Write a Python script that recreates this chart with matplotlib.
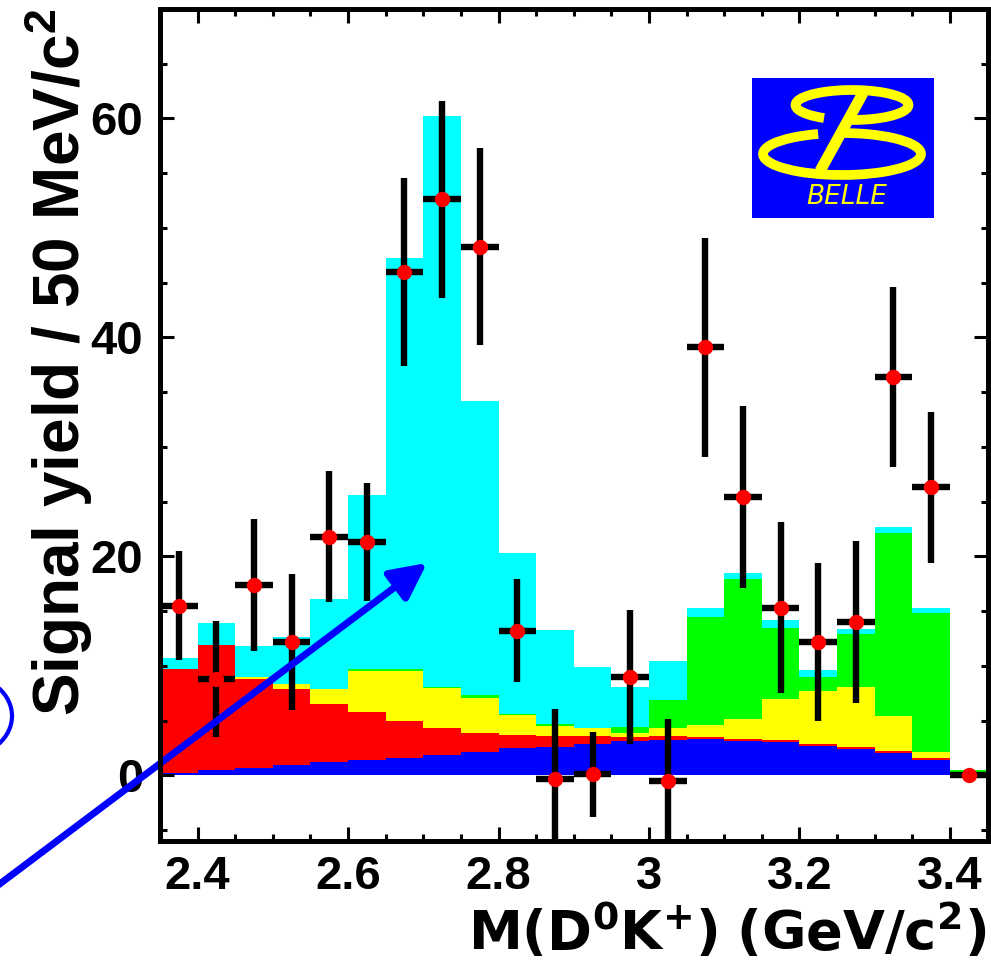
import matplotlib
matplotlib.use("Agg")
import matplotlib.pyplot as plt
import numpy as np
from matplotlib.patches import Arc, Ellipse, Rectangle
from matplotlib.ticker import FixedLocator, MultipleLocator

plt.rcParams["font.family"] = ["Liberation Sans", "DejaVu Sans"]
plt.rcParams["font.weight"] = "bold"
plt.rcParams["mathtext.fontset"] = "custom"
plt.rcParams["mathtext.rm"] = "Liberation Sans:bold"
plt.rcParams["mathtext.bf"] = "Liberation Sans:bold"
plt.rcParams["mathtext.it"] = "Liberation Sans:bold:italic"
plt.rcParams["mathtext.sf"] = "DejaVu Sans:bold"

# 50 MeV/c^2 bins, 2.35 - 3.45 GeV/c^2
edges = np.round(np.linspace(2.35, 3.45, 23), 3)
centers = 0.5 * (edges[:-1] + edges[1:])

# fitted components (events per bin), stacked bottom to top
comp_blue = [0.2, 0.5, 0.7, 0.9, 1.2, 1.4, 1.6, 1.9, 2.1, 2.5, 2.6,
             2.9, 3.1, 3.2, 3.3, 3.1, 3.0, 2.7, 2.4, 2.0, 1.4, 0.05]
comp_red = [9.5, 11.4, 8.1, 7.0, 5.3, 4.4, 3.4, 2.4, 1.8, 1.2, 1.0,
            0.7, 0.4, 0.4, 0.2, 0.2, 0.2, 0.2, 0.2, 0.2, 0.2, 0.05]
comp_yellow = [0.0, 0.0, 0.2, 0.4, 1.4, 3.7, 4.5, 3.7, 3.2, 1.8, 0.9,
               0.7, 0.4, 0.7, 1.1, 1.8, 3.8, 4.8, 5.5, 3.2, 0.5, 0.1]
comp_green = [0.0, 0.0, 0.0, 0.0, 0.0, 0.2, 0.2, 0.1, 0.2, 0.1, 0.2,
              0.0, 0.5, 2.6, 9.9, 12.8, 6.5, 1.3, 4.8, 16.7, 12.7, 0.3]
comp_cyan = [1.0, 2.0, 2.8, 4.3, 8.2, 15.9, 37.6, 52.1, 26.9, 14.7, 8.6,
             5.6, 3.7, 3.5, 0.8, 0.6, 0.7, 0.6, 0.5, 0.6, 0.5, 0.0]

# measured signal yield with errors
yield_val = [15.5, 8.8, 17.4, 12.2, 21.8, 21.3, 46.0, 52.6, 48.3, 13.2, -0.3,
             0.1, 9.0, -0.5, 39.1, 25.4, 15.3, 12.2, 14.0, 36.4, 26.3, 0.0]
yield_err = [5.0, 5.3, 6.0, 6.2, 6.0, 5.4, 8.6, 9.0, 9.0, 4.7, 6.4,
             3.9, 6.1, 5.6, 10.0, 8.3, 7.8, 7.2, 7.4, 8.2, 6.9, 0.0]

xticks = [2.4, 2.6, 2.8, 3.0, 3.2, 3.4]
xticklabels = ["2.4", "2.6", "2.8", "3", "3.2", "3.4"]
yticks = [0, 20, 40, 60]

W, H = 991, 963
fig = plt.figure(figsize=(W / 100, H / 100), dpi=100)
ax = fig.add_axes([160 / W, 1 - 841 / H, 827.5 / W, 832 / H])

components = [comp_blue, comp_red, comp_yellow, comp_green, comp_cyan]
colors = ["#0000ff", "#ff0000", "#ffff00", "#00ff00", "#00ffff"]
bottom = np.zeros(len(centers))
for vals, col in zip(components, colors):
    top = bottom + np.asarray(vals)
    ax.stairs(top, edges, baseline=bottom, fill=True, color=col,
              linewidth=0, zorder=1)
    bottom = top

ax.errorbar(centers, yield_val, yerr=yield_err, xerr=0.025, fmt="o",
            color="red", markersize=11, markeredgewidth=0,
            ecolor="black", elinewidth=4.6, capsize=0, zorder=3)

ax.set_xlim(2.35, 3.45)
ax.set_ylim(-6, 70)
ax.xaxis.set_major_locator(FixedLocator(xticks))
ax.set_xticklabels(xticklabels)
ax.xaxis.set_minor_locator(MultipleLocator(0.05))
ax.yaxis.set_major_locator(FixedLocator(yticks))
ax.yaxis.set_minor_locator(MultipleLocator(5))
ax.tick_params(which="both", direction="in", top=True, right=True,
               width=2.2, labelsize=34)
ax.tick_params(which="major", length=10)
ax.tick_params(which="minor", length=5)
ax.tick_params(axis="x", pad=10)
ax.tick_params(axis="y", pad=12)
for sp in ax.spines.values():
    sp.set_linewidth(3.6)
    sp.set_zorder(4)

fig.text(59 / W, 1 - 362 / H, r"Signal yield / 50 MeV/c$^{\mathbf{2}}$",
         rotation=90, ha="center", va="center", fontsize=46)
fig.text(986 / W, 1 - 950 / H,
         r"$\mathsf{M(D^{0}K^{+})\ (GeV/c^{2})}$",
         ha="right", va="baseline", fontsize=39)

# arrow pointing into the peak
ax.annotate("", xy=(2.705, 19.4), xycoords="data",
            xytext=(-15 / W, 1 - 895 / H), textcoords="figure fraction",
            annotation_clip=False,
            arrowprops=dict(arrowstyle="-|>,head_length=1.1,head_width=0.55",
                            mutation_scale=20, color="#0000ff", lw=5,
                            shrinkA=0, shrinkB=0))

# marker outline at the left edge
fig.add_artist(Ellipse((-35 / W, 1 - 716 / H), 94 / W, 80 / H,
                       fill=False, edgecolor="#0000ff", lw=3))

# Belle logo
logo = fig.add_axes([752 / W, 1 - 218 / H, 182 / W, 140 / H])
logo.set_xlim(0, 182)
logo.set_ylim(0, 140)
logo.set_axis_off()
logo.add_patch(Rectangle((0, 0), 182, 140, color="#0000ff"))
yel = "#ffff00"
logo.add_patch(Arc((100, 113), 113, 30, theta1=-90, theta2=205,
                   color=yel, lw=7))
logo.add_patch(Arc((90, 64), 158, 42, theta1=140, theta2=98,
                   color=yel, lw=7))
logo.plot([111, 68], [125, 47], color=yel, lw=8, solid_capstyle="butt")
logo.text(95, 21, "BELLE", color=yel, fontsize=19, style="italic",
          weight="normal", family="DejaVu Sans", ha="center", va="center")

fig.savefig("out.png", dpi=100)
